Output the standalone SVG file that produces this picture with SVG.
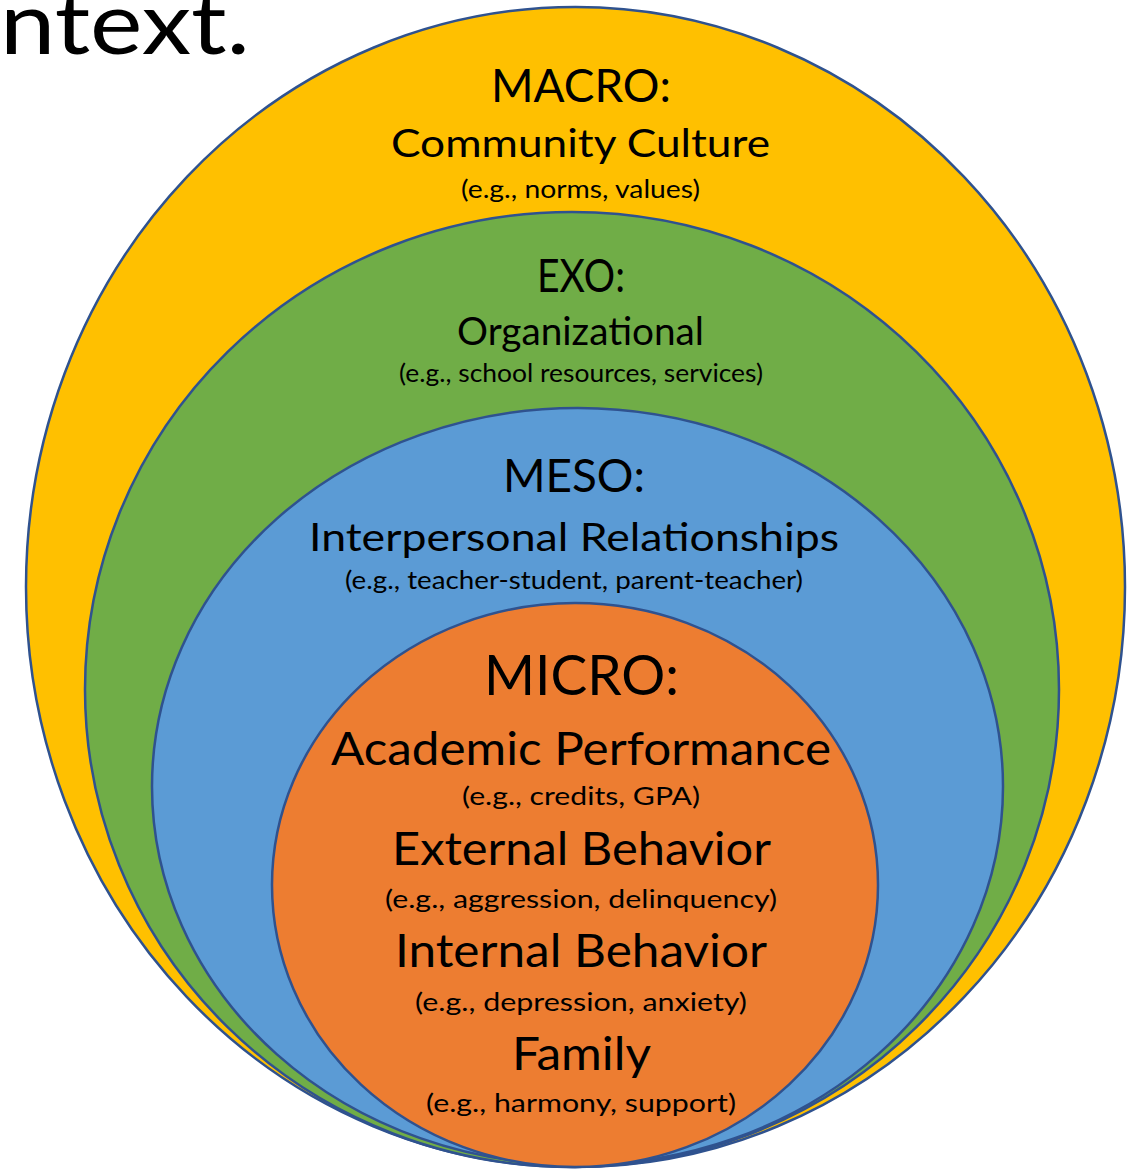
<svg xmlns="http://www.w3.org/2000/svg" width="1139" height="1173" viewBox="0 0 1139 1173">
  <style>
    .ring { stroke: #2F528F; stroke-width: 2.5; }
    text { font-family: Lato, "Liberation Sans", sans-serif; fill: #000; text-anchor: middle; }
    .head { font-size: 46px; }
    .title { font-size: 39px; }
    .ex { font-size: 25px; }
    .micro-head { font-size: 57px; }
    .micro-title { font-size: 46px; }
  </style>
  <rect width="1139" height="1173" fill="#fff"/>

  <!-- fragment of slide heading, clipped at the left edge -->
  <text x="125" y="54" font-size="88" textLength="250" lengthAdjust="spacingAndGlyphs">ntext.</text>

  <!-- outer level -->
  <g id="macro">
    <ellipse class="ring" cx="575.5" cy="587" rx="549.5" ry="580" fill="#FFC000"/>
    <text class="head" x="581" y="102" textLength="180" lengthAdjust="spacingAndGlyphs">MACRO:</text>
    <text class="title" x="580.5" y="157" textLength="379" lengthAdjust="spacingAndGlyphs">Community Culture</text>
    <text class="ex" x="580.5" y="198" textLength="239" lengthAdjust="spacingAndGlyphs">(e.g., norms, values)</text>
  </g>

  <g id="exo">
    <ellipse class="ring" cx="572" cy="689.5" rx="487" ry="477.5" fill="#70AD47"/>
    <text class="head" x="581" y="292" textLength="88" lengthAdjust="spacingAndGlyphs">EXO:</text>
    <text class="title" x="580.5" y="345" textLength="247" lengthAdjust="spacingAndGlyphs">Organizational</text>
    <text class="ex" x="581" y="382" textLength="364" lengthAdjust="spacingAndGlyphs">(e.g., school resources, services)</text>
  </g>

  <g id="meso">
    <ellipse class="ring" cx="577.5" cy="786.5" rx="425.5" ry="378.5" fill="#5B9BD5"/>
    <text class="head" x="574" y="492" textLength="142" lengthAdjust="spacingAndGlyphs">MESO:</text>
    <text class="title" x="574" y="551" textLength="530" lengthAdjust="spacingAndGlyphs">Interpersonal Relationships</text>
    <text class="ex" x="574" y="589" textLength="458" lengthAdjust="spacingAndGlyphs">(e.g., teacher-student, parent-teacher)</text>
  </g>

  <!-- inner level -->
  <g id="micro">
    <ellipse class="ring" cx="575" cy="885" rx="303" ry="282" fill="#ED7D31"/>
    <text class="micro-head" x="581.5" y="695" textLength="195" lengthAdjust="spacingAndGlyphs">MICRO:</text>
    <text class="micro-title" x="581" y="765" textLength="500" lengthAdjust="spacingAndGlyphs">Academic Performance</text>
    <text class="ex" x="581" y="805" textLength="238" lengthAdjust="spacingAndGlyphs">(e.g., credits, GPA)</text>
    <text class="micro-title" x="581.5" y="865" textLength="379" lengthAdjust="spacingAndGlyphs">External Behavior</text>
    <text class="ex" x="581" y="908" textLength="392" lengthAdjust="spacingAndGlyphs">(e.g., aggression, delinquency)</text>
    <text class="micro-title" x="581" y="967" textLength="372" lengthAdjust="spacingAndGlyphs">Internal Behavior</text>
    <text class="ex" x="581" y="1011" textLength="332" lengthAdjust="spacingAndGlyphs">(e.g., depression, anxiety)</text>
    <text class="micro-title" x="581.5" y="1070" textLength="139" lengthAdjust="spacingAndGlyphs">Family</text>
    <text class="ex" x="581" y="1112" textLength="310" lengthAdjust="spacingAndGlyphs">(e.g., harmony, support)</text>
  </g>
</svg>
